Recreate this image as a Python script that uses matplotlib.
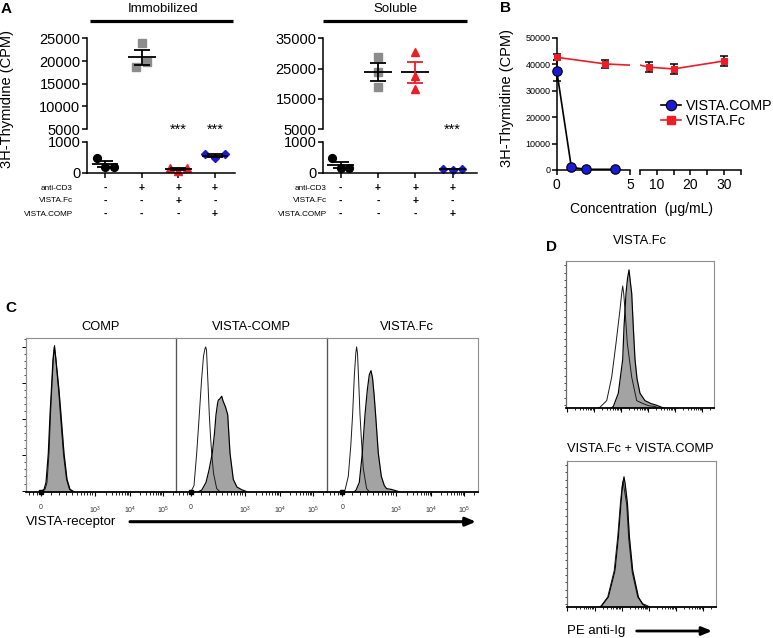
import numpy as np
import matplotlib
matplotlib.use("Agg")
import matplotlib.pyplot as plt
from matplotlib.lines import Line2D
from matplotlib.patches import FancyArrowPatch
import matplotlib.transforms as mtrans

plt.rcParams['font.family'] = ['Liberation Sans', 'DejaVu Sans']
plt.rcParams['mathtext.fontset'] = 'custom'
plt.rcParams['mathtext.rm'] = 'Liberation Sans'

# ---------------- data: panel A ----------------
row_labels = ['anti-CD3', 'VISTA.Fc', 'VISTA.COMP']
row_signs = [['-', '+', '+', '+'],
             ['-', '-', '+', '-'],
             ['-', '-', '-', '+']]
imm_ctrl = [480, 200, 200]
imm_cd3 = [23900, 18750, 19700]
imm_fc = [140, 40, 140]
imm_comp = [590, 460, 590]
sol_ctrl = [460, 140, 160]
sol_cd3 = [28900, 24000, 18850]
sol_fc = [30400, 22700, 18200]
sol_comp = [120, 100, 110]
imm_sig = [False, False, True, True]
sol_sig = [False, False, False, True]
imm_upper_ticks = [5000, 10000, 15000, 20000, 25000]
sol_upper_ticks = [5000, 15000, 25000, 35000]
lower_ticks = [0, 1000]

# ---------------- data: panel B ----------------
comp_conc = [0, 1, 2, 4]
comp_cpm = [37600, 1000, 260, 260]
comp_sem = [4000, 0, 0, 0]
fc_conc = [0, 3.3, 7.8, 15, 30]
fc_cpm = [42600, 40100, 38850, 38200, 41200]
fc_sem = [1200, 1500, 1900, 2000, 1900]
b_yticks = [0, 10000, 20000, 30000, 40000, 50000]

# ---------------- data: panel C / D histograms (channel, % of max) ----------------
c1_fill_x = [15, 18, 20, 22.3, 24, 25.7, 27, 28.3, 29.5, 31.3, 33, 35, 38, 41, 44, 48]
c1_fill_y = [0, 1.5, 6, 25, 50, 70, 86, 94, 88, 77, 66, 50, 25, 8, 1.5, 0]
c1_open_x = [16, 19, 21, 23, 24.5, 26, 27.3, 28.6, 29.8, 31.3, 32.8, 34.6, 37.5, 40.5, 43.5, 47]
c1_open_y = [0, 1.5, 6, 25, 50, 70, 86, 95, 87, 75, 64, 48, 24, 8, 1.5, 0]

c2_fill_x = [22, 25.7, 30, 33, 36.3, 38.5, 40, 41.5, 42.3, 43.5, 45.7, 47, 49.5, 51.7, 54, 57.3, 61, 66, 71]
c2_fill_y = [0, 1, 6, 14, 25, 38, 50, 57, 59.5, 60, 62, 59, 55, 50, 25, 8, 3, 1.2, 0]
c2_open_x = [15, 18, 20.7, 23.3, 25.5, 27.5, 29, 29.7, 30.5, 32, 33.3, 34.5, 35.7, 37.5, 40.7, 44]
c2_open_y = [0, 4, 25, 50, 72, 88, 93, 94, 92, 70, 50, 36, 25, 12, 2, 0]

c3_fill_x = [27, 28.7, 32, 35, 37.7, 40, 42, 43.7, 45.2, 46.8, 48.3, 51, 54, 57, 59.3, 64, 69.3, 72]
c3_fill_y = [0, 1, 6, 25, 50, 66, 76, 78.6, 74, 63, 50, 25, 10, 4, 2, 1.5, 0.5, 0]
c3_open_x = [16, 17.7, 21, 23.5, 25.3, 27, 28.5, 29.3, 30.2, 31.5, 32.7, 34, 36, 39.3, 42]
c3_open_y = [0, 1, 10, 30, 50, 75, 90, 94, 90, 70, 50, 35, 15, 2, 0]

d1_fill_x = [45, 47.3, 52.3, 56.7, 58, 60, 61.5, 63, 64.3, 65.7, 67.3, 69, 71, 74, 79, 85, 90, 95.7, 98]
d1_fill_y = [0, 1, 10, 33, 55, 78, 88, 94, 86, 78, 55, 33, 20, 10, 5, 3, 2, 0.5, 0]
d1_open_x = [32, 34, 40.7, 45.7, 50, 54, 55.7, 56.7, 57.7, 59, 61.3, 65.7, 70.7, 77, 83, 89, 92]
d1_open_y = [0, 0.5, 5, 21, 44, 67, 78, 83, 78, 67, 44, 21, 5, 3, 1.5, 1, 0]

d2_fill_x = [33, 35, 41.7, 48.3, 51.7, 54.3, 56, 57.3, 58.5, 60.7, 62.7, 66, 71.7, 76, 80, 83]
d2_fill_y = [0, 1, 7, 25, 48, 71, 84, 89, 84, 71, 48, 25, 7, 2, 0.5, 0]
d2_open_x = [32.5, 34.5, 41, 47.5, 51, 53.7, 55.3, 56.3, 57.7, 60, 62, 65.5, 71, 76, 81, 84]
d2_open_y = [0, 1, 7, 25, 48, 71, 82, 86, 80, 70, 47, 24, 7, 2.5, 1, 0]

c_titles = ['COMP', 'VISTA-COMP', 'VISTA.Fc']
c_tick_labels = ['0', '$10^3$', '$10^4$', '$10^5$']
d_titles = ['VISTA.Fc', 'VISTA.Fc + VISTA.COMP']

# ---------------- figure helpers ----------------
W, H = 773, 638
fig = plt.figure(figsize=(W / 100, H / 100), dpi=100)
fig.patch.set_facecolor('white')


def fx(x):
    return x / W


def fy(y):
    return 1 - y / H


def px_axes(x0, y0, x1, y1):
    ax = fig.add_axes([x0 / W, 1 - y1 / H, (x1 - x0) / W, (y1 - y0) / H])
    ax.patch.set_alpha(0)
    return ax


RED = '#ee1c25'
BLUE = '#1a1ad6'
GRAY = '#8c8c8c'


def fig_line(x0, x1, y, lw):
    fig.add_artist(Line2D([fx(x0), fx(x1)], [fy(y), fy(y)], transform=fig.transFigure,
                          color='k', lw=lw, solid_capstyle='butt'))


# ---------------- panel A ----------------
def strip_panel(x_axis, x_end, cat0, step, up_max, up_ticks, groups, sig,
                title, title_x, bar_x0, bar_x1, label_end):
    xl = ((x_axis - cat0) / step, (x_end - cat0) / step)
    ax_up = px_axes(x_axis, 38.3, x_end, 129.2)
    ax_lo = px_axes(x_axis, 141.7, x_end, 172.7)
    for ax in (ax_up, ax_lo):
        ax.set_xlim(*xl)
        ax.spines['top'].set_visible(False)
        ax.spines['right'].set_visible(False)
        for s in ('left', 'bottom'):
            ax.spines[s].set_linewidth(1.1)
        ax.tick_params(axis='y', labelsize=10.5, length=3.5, width=1.1, pad=1)
    ax_up.spines['bottom'].set_visible(False)
    ax_up.set_xticks([])
    ax_up.set_ylim(5000, up_max)
    ax_up.set_yticks(up_ticks)
    ax_lo.set_ylim(0, 1000)
    ax_lo.set_yticks(lower_ticks)
    ax_lo.set_xticks(range(4))
    ax_lo.set_xticklabels([])
    ax_lo.tick_params(axis='x', length=3.5, width=1.1)

    for i, (vals, offs, marker, color, ecolor, ms) in enumerate(groups):
        v = np.asarray(vals, dtype=float)
        m = v.mean()
        sem = v.std(ddof=1) / np.sqrt(len(v))
        ax = ax_up if m > 3000 else ax_lo
        ax.plot(i + np.asarray(offs), v, ls='none', marker=marker, color=color,
                ms=ms, mec=color, clip_on=False, zorder=2)
        half = 0.38 if ax is ax_up else 0.36
        ax.plot([i - half, i + half], [m, m], color='k', lw=1.3, zorder=3,
                clip_on=False, solid_capstyle='butt')
        ax.errorbar(i, m, yerr=sem, fmt='none', ecolor=ecolor, elinewidth=1.3,
                    capsize=5.5, capthick=1.3, zorder=3, clip_on=False)
        if sig[i]:
            tr = mtrans.blended_transform_factory(ax_up.transData, ax_up.transAxes)
            ax_up.text(i, -0.05, '***', transform=tr, ha='center', va='baseline',
                       fontsize=10.5)

    fig.text(fx(title_x), fy(9), title, ha='center', va='center', fontsize=9.5)
    fig_line(bar_x0, bar_x1, 21, 2.3)
    trs = mtrans.blended_transform_factory(ax_lo.transData, fig.transFigure)
    for r, (lab, signs) in enumerate(zip(row_labels, row_signs)):
        yy = 188 + 13 * r
        fig.text(fx(label_end), fy(yy), lab, ha='right', va='center', fontsize=5.9)
        for i, s in enumerate(signs):
            ax_lo.text(i, fy(yy), s, transform=trs, ha='center', va='center',
                       fontsize=7.5, fontweight='bold')
    return ax_up, ax_lo


imm_groups = [
    (imm_ctrl, [-0.23, 0, 0.245], 'o', 'k', 'k', 5.6),
    (imm_cd3, [0, -0.155, 0.155], 's', GRAY, 'k', 5.2),
    (imm_fc, [-0.23, 0, 0.23], '^', RED, 'k', 5.6),
    (imm_comp, [-0.27, 0, 0.27], 'D', BLUE, 'k', 4.5),
]
sol_groups = [
    (sol_ctrl, [-0.225, 0, 0.23], 'o', 'k', 'k', 5.6),
    (sol_cd3, [0, 0, 0], 's', GRAY, 'k', 5.2),
    (sol_fc, [0, 0, 0], '^', RED, RED, 5.6),
    (sol_comp, [-0.25, 0, 0.24], 'D', BLUE, 'k', 4.5),
]
strip_panel(86.7, 235, 105, 36.7, 25000, imm_upper_ticks, imm_groups, imm_sig,
            'Immobilized', 163, 90, 233, 72.7)
strip_panel(322.7, 476.7, 340.7, 37.3, 35000, sol_upper_ticks, sol_groups, sol_sig,
            'Soluble', 395, 323, 467, 326.7)

fig.text(fx(7), fy(99), '3H-Thymidine (CPM)', rotation=90, ha='center', va='center',
         fontsize=10.5)
fig.text(fx(1), fy(9), 'A', fontweight='bold', fontsize=11, ha='left', va='center')

# ---------------- panel B ----------------
axL = px_axes(556.7, 37.7, 630, 170)
axR = px_axes(640, 37.7, 740.7, 170)
axL.set_xlim(0, 5)
axR.set_xlim(5, 35)
for ax in (axL, axR):
    ax.set_ylim(0, 50000)
    ax.spines['top'].set_visible(False)
    ax.spines['right'].set_visible(False)
    ax.spines['bottom'].set_linewidth(1.1)
    ax.tick_params(axis='x', labelsize=10, length=3.5, width=1.1, pad=2.5)
    ax.tick_params(axis='x', which='minor', length=3.5, width=1.1)
    ax.plot(comp_conc, comp_cpm, color='k', lw=1.2, zorder=2)
    ax.plot(fc_conc, fc_cpm, color=RED, lw=1.2, zorder=2)
axL.spines['left'].set_linewidth(1.1)
axL.set_yticks(b_yticks)
axL.tick_params(axis='y', labelsize=6.5, length=3.5, width=1.1, pad=1)
axL.set_xticks([0, 5])
axR.spines['left'].set_visible(False)
axR.set_yticks([])
axR.set_xticks([10, 20, 30])
axR.set_xticks([5, 15, 25, 35], minor=True)

for xs, ys, es, marker, color, ms in ((fc_conc, fc_cpm, fc_sem, 's', RED, 5.0),
                                      (comp_conc, comp_cpm, comp_sem, 'o', BLUE, 6.8)):
    for x, y, e in zip(xs, ys, es):
        ax = axL if x <= 5 else axR
        if e > 0:
            ax.errorbar(x, y, yerr=e, fmt='none', ecolor='k', elinewidth=1.1,
                        capsize=3.2, capthick=1.1, clip_on=False, zorder=3)
        ax.plot(x, y, marker=marker, color=color, mec='k' if marker == 'o' else color,
                mew=0.8, ms=ms, clip_on=False, zorder=4)

handles = [Line2D([], [], color='k', lw=1.2, marker='o', ms=7.5, mfc=BLUE, mec='k', mew=0.8),
           Line2D([], [], color=RED, lw=1.2, marker='s', ms=6, mfc=RED, mec=RED)]
fig.legend(handles, ['VISTA.COMP', 'VISTA.Fc'], loc='upper left',
           bbox_to_anchor=(fx(661), fy(99)), frameon=False, fontsize=10.3,
           handlelength=1.4, handletextpad=0.35, labelspacing=0.05,
           borderaxespad=0, borderpad=0)
fig.text(fx(641.7), fy(209), 'Concentration  (\u03bcg/mL)', ha='center', va='center',
         fontsize=10)
fig.text(fx(507), fy(98), '3H-Thymidine (CPM)', rotation=90, ha='center', va='center',
         fontsize=10.5)
fig.text(fx(500), fy(8), 'B', fontweight='bold', fontsize=11, ha='left', va='center')


# ---------------- panels C / D ----------------
def hist_axes(x0, y0, x1, y1, left_color='#8f8f8f'):
    ax = px_axes(x0, y0, x1, y1)
    ax.set_xlim(0, x1 - x0)
    ax.set_ylim(0, 100)
    for s in ('top', 'right'):
        ax.spines[s].set_color('#8f8f8f')
        ax.spines[s].set_linewidth(0.8)
    ax.spines['left'].set_color(left_color)
    ax.spines['left'].set_linewidth(0.9)
    ax.spines['bottom'].set_color('k')
    ax.spines['bottom'].set_linewidth(1.3)
    ax.set_yticks([])
    return ax


def draw_hist(ax, fxv, fyv, oxv, oyv):
    ax.fill_between(fxv, fyv, 0, color='#a3a3a3', lw=0, zorder=1)
    ax.plot(oxv, oyv, color='#1a1a1a', lw=0.7, zorder=2)
    ax.plot(fxv, fyv, color='k', lw=0.85, zorder=3)


def c_xticks(ax):
    major = [15, 69, 104, 137]
    minor = [3, 7, 11, 25, 33, 40, 46, 51, 55, 58, 61, 63.5, 66]
    for a, b in ((69, 104), (104, 137), (137, 170)):
        for k in range(2, 10):
            p = a + (b - a) * np.log10(k)
            if p < 150:
                minor.append(p)
    ax.set_xticks(major)
    ax.set_xticklabels(c_tick_labels)
    ax.set_xticks(minor, minor=True)
    ax.tick_params(axis='x', which='major', length=3, width=0.8, labelsize=5,
                   pad=6, labelcolor='#333333')
    ax.tick_params(axis='x', which='minor', length=1.8, width=0.6)
    ax.plot(15, 0, marker='s', color='k', ms=2.8, clip_on=False, zorder=5)


c_boxes = [(26, 176), (176, 327.3), (327.3, 477.7)]
c_data = [(c1_fill_x, c1_fill_y, c1_open_x, c1_open_y),
          (c2_fill_x, c2_fill_y, c2_open_x, c2_open_y),
          (c3_fill_x, c3_fill_y, c3_open_x, c3_open_y)]
for j, ((x0, x1), dat, title) in enumerate(zip(c_boxes, c_data, c_titles)):
    ax = hist_axes(x0, 337.7, x1, 491.7, left_color='#8f8f8f' if j == 0 else '#555555')
    draw_hist(ax, *dat)
    c_xticks(ax)
    fig.text(fx((x0 + x1) / 2 + (4 if j == 2 else 0)), fy(326.7), title,
             ha='center', va='center', fontsize=9.3)
    if j == 0:
        ax.set_yticks([0.6, 24, 47.4, 70.8, 94.2])
        ax.set_yticks([p for p in np.arange(0.6, 100, 4.68)], minor=True)
        ax.tick_params(axis='y', which='major', length=3, width=0.7, labelleft=False)
        ax.tick_params(axis='y', which='minor', length=1.6, width=0.5)

fig.add_artist(FancyArrowPatch((fx(130), fy(521.7)), (fx(476), fy(521.7)),
                               transform=fig.transFigure,
                               arrowstyle='-|>,head_length=0.6,head_width=0.25',
                               mutation_scale=10, lw=2.2, color='k',
                               shrinkA=0, shrinkB=0))
fig.text(fx(26), fy(521.7), 'VISTA-receptor', ha='left', va='center', fontsize=9.5)
fig.text(fx(5), fy(308), 'C', fontweight='bold', fontsize=11, ha='left', va='center')


def d_ticks(ax):
    major = [0.7 + 27.1 * k for k in range(6)]
    minor = []
    for a in major:
        for k in range(2, 10):
            p = a + 27.1 * np.log10(k)
            if p < 148:
                minor.append(p)
    ax.set_xticks(major)
    ax.set_xticklabels([])
    ax.set_xticks(minor, minor=True)
    ax.tick_params(axis='x', which='major', length=3, width=0.8)
    ax.tick_params(axis='x', which='minor', length=1.6, width=0.6)
    ax.set_yticks([], minor=False)
    ax.set_yticks(list(np.arange(2, 100, 5)), minor=True)
    ax.tick_params(axis='y', which='minor', length=1.3, width=0.5)


d_boxes = [(566, 261, 714.3, 408), (566.7, 460.7, 715.7, 607.3)]
d_data = [(d1_fill_x, d1_fill_y, d1_open_x, d1_open_y),
          (d2_fill_x, d2_fill_y, d2_open_x, d2_open_y)]
d_title_y = [241, 449]
for (x0, y0, x1, y1), dat, title, ty in zip(d_boxes, d_data, d_titles, d_title_y):
    ax = hist_axes(x0, y0, x1, y1, left_color='#6a6a6a')
    draw_hist(ax, *dat)
    d_ticks(ax)
    fig.text(fx(640), fy(ty), title, ha='center', va='center', fontsize=9.3)

fig.add_artist(FancyArrowPatch((fx(636.7), fy(631)), (fx(712), fy(631)),
                               transform=fig.transFigure,
                               arrowstyle='-|>,head_length=0.6,head_width=0.25',
                               mutation_scale=10, lw=2.0, color='k',
                               shrinkA=0, shrinkB=0))
fig.text(fx(566.7), fy(631), 'PE anti-Ig', ha='left', va='center', fontsize=9.5)
fig.text(fx(546), fy(247), 'D', fontweight='bold', fontsize=11, ha='left', va='center')

fig.savefig('out.png', dpi=100, facecolor='white')
